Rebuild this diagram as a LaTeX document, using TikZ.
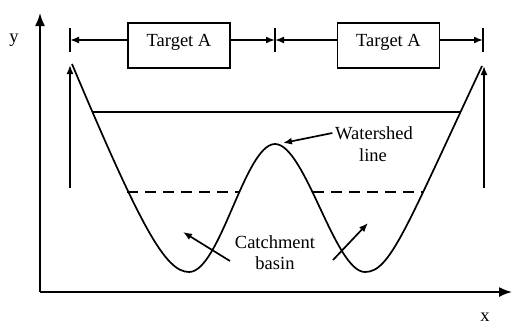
\documentclass[tikz,border=0pt]{standalone}
\usepackage{fontspec}
\setmainfont{Liberation Serif}
\usetikzlibrary{arrows.meta,positioning}

\begin{document}
\begin{tikzpicture}[x=1pt, y=-1pt, line width=1.7pt,
  every node/.style={font=\fontsize{18.5}{22}\selectfont, inner sep=2pt},
  box/.style={draw, rectangle, minimum width=102pt, inner sep=0pt, text height=23pt, text depth=22pt},
  arr/.style={-{Latex[length=9pt,width=7pt]}},
  axis/.style={-{Latex[length=13pt,width=10pt]}}]
\useasboundingbox (0,0) rectangle (513,327);

% Axes
\coordinate (O) at (40,292);
\coordinate (yend) at (40,13);
\coordinate (xend) at (512,292);
\draw[axis] (O) -- (yend);
\draw[axis] (O) -- (xend);
\node (ylab) at (14,40) {y};
\node (xlab) at (485,317) {x};

% Targets
\node[box] (targetA1) at (179,45.5) {Target A};
\node[box] (targetA2) at (388.5,45.5) {Target A};
\coordinate (t1) at (70,40);
\coordinate (t2) at (275,40);
\coordinate (t3) at (483,40);
\draw (t1) ++(0,-12) -- ++(0,24);
\draw (t2) ++(0,-12) -- ++(0,24);
\draw (t3) ++(0,-12) -- ++(0,24);
\draw[arr] (t1 -| targetA1.west) -- (t1);
\draw[arr] (t2 -| targetA1.east) -- (t2);
\draw[arr] (t2 -| targetA2.west) -- (t2);
\draw[arr] (t3 -| targetA2.east) -- (t3);

% Side arrows
\coordinate (lbot) at (70,188);
\coordinate (ltop) at (70,65);
\coordinate (rbot) at (484,188);
\coordinate (rtop) at (484,66);
\draw[arr] (lbot) -- (ltop);
\draw[arr] (rbot) -- (rtop);

% Levels
\draw (92,112) -- (460,112);
\draw[dash pattern=on 11pt off 7pt] (127,192) -- (240,192);
\draw[dash pattern=on 11pt off 7pt] (313,192) -- (423,192);

% Surface
\coordinate (peak) at (283,143);
\draw (72,64) .. controls (140,225) and (165,272) .. (189,272)
  .. controls (220,272) and (245,144) .. (275,144)
  .. controls (305,144) and (335,272) .. (365,272)
  .. controls (390,272) and (405,230) .. (482,66);

% Labels
\node (watershed) at (374,133) {Watershed};
\node (wsline) at (373,155) {line};
\draw[arr] (watershed.west) -- (peak);
\node (catch) at (275,242) {Catchment};
\node (basin) at (275,263) {basin};
\coordinate (cbL) at (230,261);
\coordinate (cbR) at (333,260);
\coordinate (basinL) at (183,232);
\coordinate (basinR) at (368,223);
\draw[arr] (cbL) -- (basinL);
\draw[arr] (cbR) -- (basinR);
\end{tikzpicture}
\end{document}
